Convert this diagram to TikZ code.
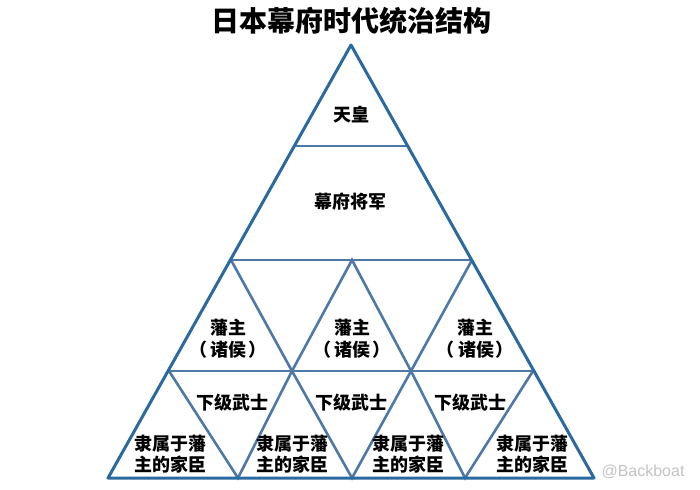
\documentclass[tikz,border=0pt]{standalone}
\usepackage{fontspec}
\setmainfont{Noto Sans CJK SC}
\newfontfamily\latinfont{Liberation Sans}
\definecolor{outerblue}{HTML}{2A6A9E}
\definecolor{innerblue}{HTML}{4E79A7}
\definecolor{wmgrey}{HTML}{C4C4C4}
\newcommand{\zhuhou}{\mbox{（}\kern3.5pt\mbox{诸侯}\kern1.5pt\mbox{）}}
\begin{document}
\begin{tikzpicture}[x=1pt,y=-1pt,
  outerline/.style={draw=outerblue,line width=3pt,line join=round,line cap=round},
  innerline/.style={draw=innerblue,line width=2.6pt,line cap=round},
  lbl/.style={font=\bfseries\fontsize{18}{22}\selectfont,align=center,inner sep=0pt,text=black},
  titlestyle/.style={font=\bfseries\fontsize{28}{32}\selectfont,inner sep=0pt,text=black},
  wmstyle/.style={font=\latinfont\fontsize{16}{18}\selectfont,inner sep=0pt,text=wmgrey}]
\useasboundingbox (0,0) rectangle (700,489);
\fill[white] (0,0) rectangle (700,489);
% key points
\coordinate (A) at (351,45);
\coordinate (B1) at (294,146);
\coordinate (B2) at (408,146);
\coordinate (C1) at (231,260);
\coordinate (Cm) at (352,260);
\coordinate (C2) at (472,260);
\coordinate (D1) at (169,371);
\coordinate (D2) at (292,371);
\coordinate (D3) at (411,371);
\coordinate (D4) at (533,371);
\coordinate (E0) at (108,478);
\coordinate (E1) at (238,478);
\coordinate (E2) at (352,478);
\coordinate (E3) at (465,478);
\coordinate (E4) at (594,478);
% inner lines
\draw[innerline] (B1) -- (B2);
\draw[innerline] (C1) -- (C2);
\draw[innerline] (D1) -- (D4);
\draw[innerline] (C1) -- (D2) -- (Cm) -- (D3) -- (C2);
\draw[innerline] (D1) -- (E1) -- (D2) -- (E2) -- (D3) -- (E3) -- (D4);
% outer triangle
\draw[outerline] (A) -- (E0) -- (E4) -- cycle;
% texts
\node[titlestyle] (title) at (351,21) {日本幕府时代统治结构};
\node[lbl] (tenno) at (351,115) {天皇};
\node[lbl] (shogun) at (350,202) {幕府将军};
\node[lbl] (han1) at (228,339) {藩主\hspace{7pt}\\\zhuhou};
\node[lbl] (han2) at (352,339) {藩主\hspace{4pt}\\\zhuhou};
\node[lbl] (han3) at (475,339) {藩主\hspace{5pt}\\\zhuhou};
\node[lbl] (bushi1) at (232,403) {下级武士};
\node[lbl] (bushi2) at (351,403) {下级武士};
\node[lbl] (bushi3) at (470,403) {下级武士};
\node[lbl,font=\bfseries\fontsize{18}{21}\selectfont] (kashin1) at (170,454) {隶属于藩\\主的家臣};
\node[lbl,font=\bfseries\fontsize{18}{21}\selectfont] (kashin2) at (292,454) {隶属于藩\\主的家臣};
\node[lbl,font=\bfseries\fontsize{18}{21}\selectfont] (kashin3) at (408,454) {隶属于藩\\主的家臣};
\node[lbl,font=\bfseries\fontsize{18}{21}\selectfont] (kashin4) at (532,454) {隶属于藩\\主的家臣};
\node[wmstyle] (wm) at (643,472) {@Backboat};
\end{tikzpicture}
\end{document}
